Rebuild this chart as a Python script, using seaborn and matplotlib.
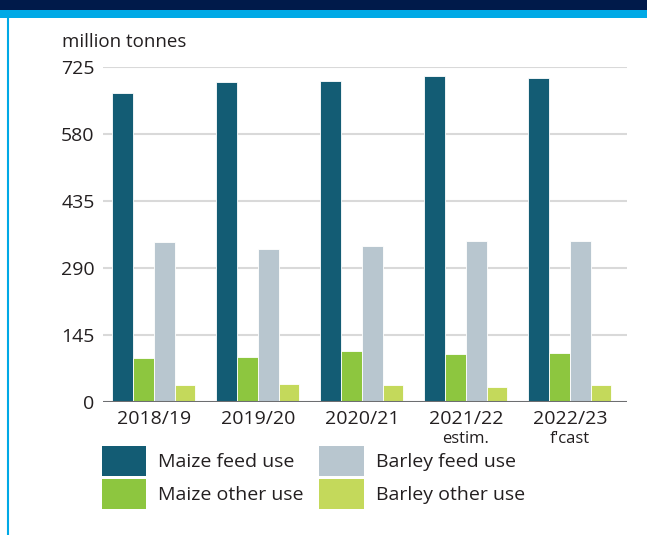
import numpy as np
import pandas as pd
import seaborn as sns
from matplotlib import pyplot as plt
from matplotlib.patches import Rectangle, Patch
from matplotlib.lines import Line2D

# data (million tonnes)
seasons = ["2018/19", "2019/20", "2020/21", "2021/22", "2022/23"]
season_notes = ["", "", "", "estim.", "f'cast"]
series = ["Maize feed use", "Maize other use", "Barley feed use", "Barley other use"]
maize_feed = [668, 693, 694, 705, 700]
maize_other = [94, 98, 109, 103, 105]
barley_feed = [346, 331, 338, 348, 347]
barley_other = [36, 38, 36, 33, 36]
yticks = [0, 145, 290, 435, 580, 725]

colors = ["#135C74", "#8DC63F", "#B8C6CF", "#C4D95B"]

df = pd.DataFrame({
    "season": seasons * 4,
    "use": np.repeat(series, len(seasons)),
    "value": maize_feed + maize_other + barley_feed + barley_other,
})

sns.set_style("white")
plt.rcParams["font.family"] = ["Open Sans", "DejaVu Sans"]
txt = "#231f20"

fig = plt.figure(figsize=(6.47, 5.35), dpi=100)
ax = fig.add_axes([0.159, 0.249, 0.81, 0.626])

sns.barplot(data=df, x="season", y="value", hue="use", hue_order=series,
            palette=colors, width=0.8, saturation=1, ax=ax, legend=False,
            edgecolor="white", linewidth=0.6)

ax.set_ylim(0, 725)
ax.set_xlim(-0.49, 4.55)
ax.set_yticks(yticks)
ax.set_yticklabels([str(t) for t in yticks], fontsize=14, color=txt)
ax.tick_params(axis="y", length=0, pad=6)
ax.tick_params(axis="x", length=0, pad=6, labelsize=14, labelcolor=txt)
ax.set_xlabel("")
ax.set_ylabel("")
for s in ax.spines.values():
    s.set_visible(False)
ax.grid(axis="y", color="#d9d9d9", lw=1.5)
ax.set_axisbelow(True)
ax.axhline(0, color="#6d6e71", lw=2.2, zorder=5)

for i, note in enumerate(season_notes):
    if note:
        ax.text(i, -0.11, note, transform=ax.get_xaxis_transform(),
                ha="center", va="center", fontsize=12, color=txt)

fig.text(0.096, 0.921, "million tonnes", fontsize=13.5, color=txt, va="center")

handles = [Patch(facecolor=c, edgecolor="none") for c in colors]
fig.legend(handles, series, ncol=2, loc="upper left",
           bbox_to_anchor=(0.158, 0.166), frameon=False, fontsize=14,
           handlelength=2.27, handleheight=2.0, handletextpad=0.62,
           columnspacing=0.8, labelspacing=0.15, labelcolor=txt,
           borderaxespad=0, borderpad=0)

# frame decoration: dark band, light blue band, left rule
fig.add_artist(Rectangle((0, 1 - 10 / 535), 1, 10 / 535, transform=fig.transFigure,
                         color="#001A4A", lw=0))
fig.add_artist(Rectangle((0, 1 - 18 / 535), 1, 8 / 535, transform=fig.transFigure,
                         color="#00A9E6", lw=0))
fig.add_artist(Line2D([8 / 647, 8 / 647], [0, 1 - 18 / 535], transform=fig.transFigure,
                      color="#00A9E6", lw=1.5))

fig.savefig("out.png", dpi=100)
